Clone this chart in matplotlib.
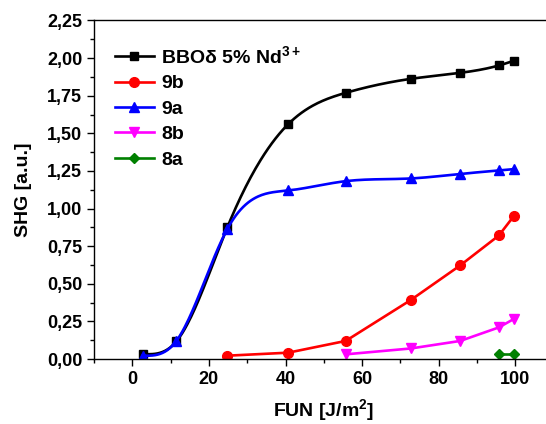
import numpy as np
import matplotlib
matplotlib.use('Agg')
import matplotlib.pyplot as plt
from matplotlib.ticker import MultipleLocator, FuncFormatter

plt.rcParams['font.family'] = 'Liberation Sans'
plt.rcParams['font.weight'] = 'bold'
plt.rcParams['axes.labelweight'] = 'bold'
plt.rcParams['mathtext.fontset'] = 'custom'
plt.rcParams['mathtext.rm'] = 'Liberation Sans:bold'
plt.rcParams['mathtext.bf'] = 'Liberation Sans:bold'
plt.rcParams['mathtext.default'] = 'rm'

# data
x_bbo = [2.7, 11.5, 24.8, 40.7, 55.7, 72.7, 85.6, 95.7, 99.6]
y_bbo = [0.033, 0.117, 0.875, 1.561, 1.769, 1.862, 1.902, 1.951, 1.982]
x_9a = [2.7, 11.5, 24.8, 40.7, 55.7, 72.7, 85.6, 95.7, 99.6]
y_9a = [0.022, 0.12, 0.864, 1.12, 1.182, 1.20, 1.23, 1.253, 1.262]
x_9b = [24.8, 40.7, 55.7, 72.7, 85.6, 95.7, 99.6]
y_9b = [0.022, 0.042, 0.12, 0.392, 0.622, 0.821, 0.95]
x_8b = [55.7, 72.7, 85.6, 95.7, 99.6]
y_8b = [0.031, 0.07, 0.12, 0.21, 0.266]
x_8a = [95.7, 99.6]
y_8a = [0.033, 0.033]


def natural_spline(x, y, n=300):
    # natural cubic spline through the points, only for the drawn line
    x = np.asarray(x, float)
    y = np.asarray(y, float)
    h = np.diff(x)
    m = len(x)
    A = np.zeros((m, m))
    r = np.zeros(m)
    A[0, 0] = A[-1, -1] = 1
    for i in range(1, m - 1):
        A[i, i - 1] = h[i - 1]
        A[i, i] = 2 * (h[i - 1] + h[i])
        A[i, i + 1] = h[i]
        r[i] = 3 * ((y[i + 1] - y[i]) / h[i] - (y[i] - y[i - 1]) / h[i - 1])
    c = np.linalg.solve(A, r)
    xs = np.linspace(x[0], x[-1], n)
    idx = np.clip(np.searchsorted(x, xs) - 1, 0, m - 2)
    b = (y[1:] - y[:-1]) / h - h * (2 * c[:-1] + c[1:]) / 3
    d = (c[1:] - c[:-1]) / (3 * h)
    t = xs - x[idx]
    ys = y[idx] + b[idx] * t + c[idx] * t ** 2 + d[idx] * t ** 3
    return xs, ys


fig = plt.figure(figsize=(5.46, 4.24), dpi=100)
ax = fig.add_axes([0.1722, 0.1533, 0.8418, 0.7984])

series = [
    (x_bbo, y_bbo, 'black', 's', 'BBOδ 5% Nd$^{3+}$', 6, True),
    (x_9b, y_9b, 'red', 'o', '9b', 7, False),
    (x_9a, y_9a, 'blue', '^', '9a', 7, True),
    (x_8b, y_8b, 'magenta', 'v', '8b', 7, False),
    (x_8a, y_8a, 'green', 'D', '8a', 5.5, False),
]
for xs, ys, col, mk, lab, ms, smooth in series:
    if smooth:
        sx, sy = natural_spline(xs, ys)
    else:
        sx, sy = xs, ys
    ax.plot(sx, sy, color=col, lw=1.9)
    ax.plot(xs, ys, color=col, lw=0, marker=mk, ms=ms)
    ax.plot([], [], color=col, lw=1.9, marker=mk, ms=ms, label=lab)

ax.set_xlim(-10, 110)
ax.set_ylim(0, 2.25)
ax.xaxis.set_major_locator(MultipleLocator(20))
ax.xaxis.set_minor_locator(MultipleLocator(10))
ax.yaxis.set_major_locator(MultipleLocator(0.25))
ax.yaxis.set_minor_locator(MultipleLocator(0.125))
ax.yaxis.set_major_formatter(FuncFormatter(lambda v, p: f'{v:.2f}'.replace('.', ',')))
ax.tick_params(which='major', direction='out', length=5, width=1, labelsize=13)
ax.tick_params(which='minor', direction='out', length=3, width=1)
for s in ax.spines.values():
    s.set_linewidth(1)

ax.set_xlabel('FUN [J/m$^2$]', fontsize=14, labelpad=7)
ax.set_ylabel('SHG [a.u.]', fontsize=14, labelpad=11)

ax.legend(loc='upper left', bbox_to_anchor=(0.045, 0.927), frameon=False,
          fontsize=14, handlelength=2.0, handletextpad=0.4, labelspacing=0.40,
          borderpad=0, borderaxespad=0)

fig.savefig('out.png', dpi=100)
